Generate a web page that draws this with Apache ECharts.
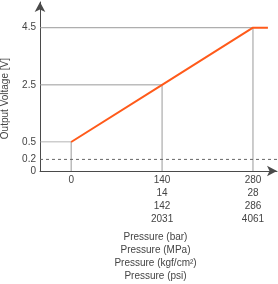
<!DOCTYPE html>
<html>
<head>
<meta charset="utf-8">
<script src="https://cdn.jsdelivr.net/npm/echarts@6/dist/echarts.min.js"></script>
<style>
  html, body { margin: 0; padding: 0; background: #fff; }
  #chart { width: 278px; height: 284px; }
</style>
</head>
<body>
<div id="chart"></div>
<script>
// pressure ticks in the four units
const pressureBar = [0, 140, 280];
const pressureMPa = ['', '14', '28'];
const pressureKgf = ['', '142', '286'];
const pressurePsi = ['', '2031', '4061'];
// output voltage at each pressure tick
const outputVolt = [0.5, 2.5, 4.5];
// line keeps going flat after full scale
const overRangeBar = 303;
// dashed threshold
const thresholdVolt = 0.2;
const lowTicks = [0, 0.2, 0.5];
const highTicks = [2.5, 4.5];

const xMin = -48, xMax = 317;
const splitVolt = 0.5;   // where the two grids meet
const guideColor = '#9a9a9a';
const axisColor = '#4a4a4a';
const txt = '#444';
const font = 'Liberation Sans, Arial, sans-serif';

// curve points
let curve = pressureBar.map((p, i) => [p, outputVolt[i]]);
curve.push([overRangeBar, outputVolt[outputVolt.length - 1]]);

// guide lines: horizontal from y-axis to the point (upper grid),
// vertical part below 0.5 in the lower grid
let guideHigh = [];
let guideLow = [];
pressureBar.forEach((p, i) => {
    let v = outputVolt[i];
    guideHigh.push({ coords: [[xMin, v], [p, v], [p, splitVolt]] });
    guideLow.push({ coords: [[p, splitVolt], [p, 0]] });
});

function guide(data, idx) {
    return {
        type: 'lines', coordinateSystem: 'cartesian2d', polyline: true,
        xAxisIndex: idx, yAxisIndex: idx, data: data, silent: true,
        lineStyle: { color: guideColor, width: 1, opacity: 1 }, z: 1
    };
}

let myChart = echarts.init(document.getElementById('chart'));
let option = {
    animation: false,
    textStyle: { fontFamily: font },
    grid: [
        { left: 40, width: 237, top: 2, height: 140 },
        { left: 40, width: 237, top: 142, height: 33 }
    ],
    xAxis: [
        { gridIndex: 0, type: 'value', min: xMin, max: xMax, show: false },
        {
            gridIndex: 1, type: 'value', min: xMin, max: xMax,
            splitLine: { show: false },
            axisTick: { show: false },
            axisLine: {
                onZero: false,
                lineStyle: { color: axisColor, width: 1 },
                symbol: ['none', 'arrow'], symbolSize: [8, 10]
            },
            axisLabel: {
                customValues: pressureBar,
                color: txt, fontSize: 10, lineHeight: 13, margin: 3,
                formatter: function (v) {
                    let i = pressureBar.indexOf(v);
                    if (i < 0) return '';
                    return [v, pressureMPa[i], pressureKgf[i], pressurePsi[i]]
                        .filter(s => s !== '').join('\n');
                }
            },
            name: 'Pressure (bar)\nPressure (MPa)\nPressure (kgf/cm\u00b2)\nPressure (psi)',
            nameLocation: 'middle', nameGap: 60,
            nameTextStyle: { color: txt, fontSize: 10, lineHeight: 13, verticalAlign: 'top', padding: [0, 6, 0, 0] }
        }
    ],
    yAxis: [
        {
            gridIndex: 0, type: 'value', min: splitVolt, max: 5.4,
            splitLine: { show: false },
            axisTick: { show: false },
            axisLine: {
                show: true, onZero: false,
                lineStyle: { color: axisColor, width: 1 },
                symbol: ['none', 'arrow'], symbolSize: [8, 10]
            },
            axisLabel: { customValues: highTicks, color: txt, fontSize: 10, margin: 4 }
        },
        {
            gridIndex: 1, type: 'value', min: 0, max: splitVolt,
            splitLine: { show: false },
            axisTick: { show: false },
            axisLine: { show: true, onZero: false, lineStyle: { color: axisColor, width: 1 } },
            axisLabel: { customValues: lowTicks, color: txt, fontSize: 10, margin: 4 }
        }
    ],
    graphic: [{
        type: 'text', left: 0, top: 58, rotation: Math.PI / 2,
        style: { text: 'Output Voltage [V]', fill: txt, fontSize: 10, fontFamily: font }
    }],
    series: [
        guide(guideHigh, 0),
        guide(guideLow, 1),
        {
            type: 'line', xAxisIndex: 1, yAxisIndex: 1, symbol: 'none', silent: true,
            data: [[xMin, thresholdVolt], [xMax, thresholdVolt]],
            lineStyle: { color: '#666', width: 1, type: [3, 3] }, z: 1
        },
        {
            type: 'line', xAxisIndex: 0, yAxisIndex: 0, symbol: 'none', clip: false,
            data: curve,
            lineStyle: { color: '#ff5a1a', width: 2 }, z: 3
        }
    ]
};
myChart.setOption(option);
</script>
</body>
</html>
